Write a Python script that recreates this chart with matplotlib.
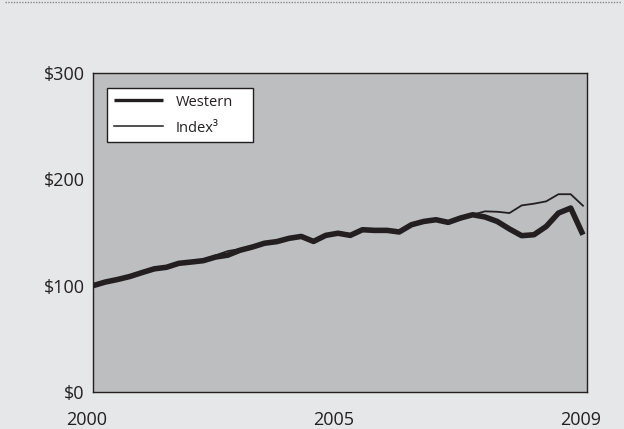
import matplotlib
matplotlib.use("Agg")
import matplotlib.pyplot as plt
from matplotlib.lines import Line2D
import matplotlib.transforms as mtransforms
import numpy as np

plt.rcParams['font.family'] = ['Open Sans', 'DejaVu Sans']

# Quarterly values, 2000 .. 2009 (growth of $100)
western = [100, 103.4, 105.8, 108.6, 112.3, 115.8, 117.3, 121.0, 122.2, 123.5,
           126.9, 128.7, 133.3, 136.3, 139.9, 141.4, 144.5, 146.3, 141.6, 147.3,
           149.3, 147.3, 152.6, 152.0, 152.0, 150.5, 157.3, 160.4, 162.0, 159.5,
           163.6, 166.7, 164.6, 160.4, 153.3, 147.0, 147.9, 155.7, 168.3, 173.0,
           147.9]
index3 = [100, 103.4, 105.8, 108.6, 112.3, 115.8, 117.3, 121.0, 122.2, 123.5,
          128.5, 132.5, 134.5, 136.3, 139.9, 141.4, 144.5, 146.3, 141.6, 147.3,
          150.5, 148.5, 152.6, 152.0, 152.0, 150.5, 156.5, 161.5, 162.5, 160.5,
          163.6, 166.7, 169.9, 169.5, 168.3, 175.5, 177.1, 179.3, 186.0, 186.0,
          175.2]
series_labels = ["Western", "Index\u00b3"]
year_labels = ["2000", "2005", "2009"]
y_ticks = [0, 100, 200, 300]
y_tick_labels = ["$0", "$100", "$200", "$300"]

fig = plt.figure(figsize=(6.24, 4.29), dpi=100)
fig.patch.set_facecolor("#e6e7e8")

L, R, T, B = 93, 587, 73, 392
ax = fig.add_axes([L / 624, 1 - B / 429, (R - L) / 624, (B - T) / 429])
ax.set_facecolor("#bcbec0")

x = np.arange(len(western))
ink = "#231f20"
ax.plot(x, western, color=ink, lw=4.0, solid_joinstyle="round", solid_capstyle="butt",
        label=series_labels[0], zorder=3)
ax.plot(x, index3, color=ink, lw=1.3, solid_joinstyle="round",
        label=series_labels[1], zorder=2)

n = len(western) - 1
xmax = n + 0.33
ax.set_xlim(0, xmax)
ax.set_ylim(0, 300)
ax.set_xticks([0, xmax / 2, xmax])
ax.set_xticklabels(year_labels)
ax.set_yticks(y_ticks)
ax.set_yticklabels(y_tick_labels)
ax.tick_params(axis="both", length=0, labelsize=13, colors=ink)
ax.tick_params(axis="y", pad=6)
ax.tick_params(axis="x", pad=13.5)
shift = mtransforms.ScaledTranslation(-6 / 100, 0, fig.dpi_scale_trans)
for lab in ax.get_xticklabels():
    lab.set_transform(lab.get_transform() + shift)
for s in ax.spines.values():
    s.set_color(ink)
    s.set_linewidth(1.0)

lw_ax = 494.0
lh_ax = 319.0
leg = ax.legend(loc="upper left",
                bbox_to_anchor=(14 / lw_ax, (392 - 142) / lh_ax, 146 / lw_ax, 54 / lh_ax),
                mode="expand", borderaxespad=0,
                frameon=True, fancybox=False, edgecolor=ink, facecolor="white",
                framealpha=1, fontsize=10.5, handlelength=3.4, handletextpad=0.85,
                labelspacing=0.75, borderpad=0.45)
leg.get_frame().set_linewidth(1.0)
handles = leg.legend_handles if hasattr(leg, "legend_handles") else leg.legendHandles
handles[0].set_linewidth(2.4)
handles[1].set_linewidth(1.1)
for t in leg.get_texts():
    t.set_color(ink)

fig.add_artist(Line2D([0.008, 0.995], [1 - 1.5 / 429, 1 - 1.5 / 429],
                      transform=fig.transFigure, color="#888888",
                      lw=1.0, linestyle=(0, (1, 1))))

fig.savefig("out.png", dpi=100, facecolor=fig.get_facecolor())
